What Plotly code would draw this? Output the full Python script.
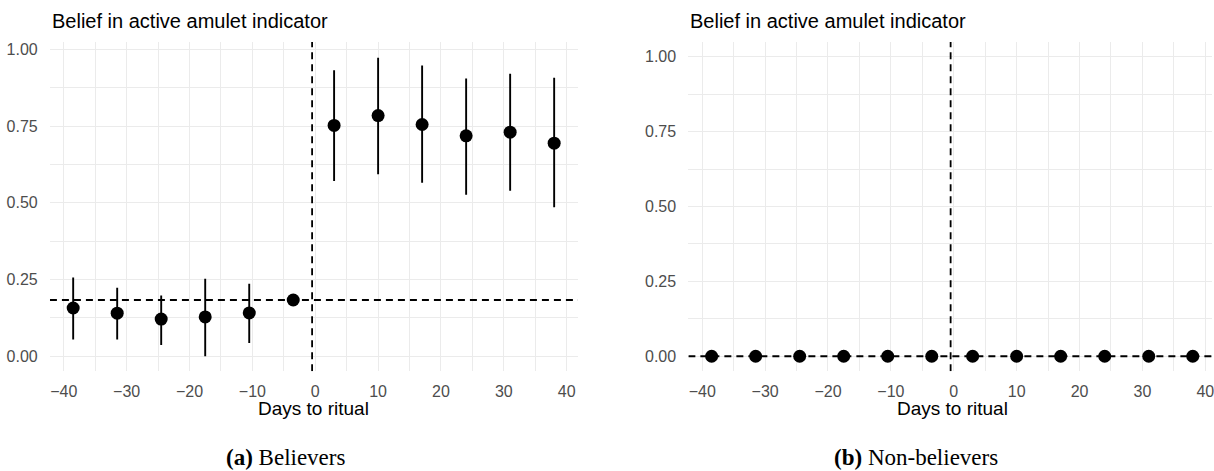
import plotly.graph_objects as go

W, H = 1214, 471

# ---- data ----
days_pre = [-38.5, -31.5, -24.5, -17.5, -10.5, -3.5]
days_post = [3, 10, 17, 24, 31, 38]
days = days_pre + days_post

bel_est = [0.157, 0.140, 0.121, 0.128, 0.141, 0.183, 0.752, 0.784, 0.755, 0.718, 0.730, 0.694]
bel_lo = [0.054, 0.054, 0.036, 0.000, 0.043, 0.183, 0.571, 0.593, 0.565, 0.526, 0.539, 0.485]
bel_hi = [0.256, 0.223, 0.198, 0.252, 0.236, 0.183, 0.932, 0.972, 0.947, 0.905, 0.920, 0.907]

non_est = [0.0] * 12
non_lo = [0.0] * 12
non_hi = [0.0] * 12

bel_ref = 0.183   # horizontal reference line (believers)
non_ref = 0.0     # horizontal reference line (non-believers)
event_x = -0.5    # vertical reference line

y_ticks = [0.0, 0.25, 0.5, 0.75, 1.0]
y_ticktext = ["0.00", "0.25", "0.50", "0.75", "1.00"]
x_ticks = [-40, -30, -20, -10, 0, 10, 20, 30, 40]
x_ticktext = ["\u221240", "\u221230", "\u221220", "\u221210", "0", "10", "20", "30", "40"]

title_txt = "Belief in active amulet indicator"
xlab = "Days to ritual"
cap_a = "<b>(a)</b> Believers"
cap_b = "<b>(b)</b> Non-believers"

# axis ranges
x1_range = [-42.2, 41.8]
y1_range = [-0.049, 1.024]
x2_range = [-42.2, 41.06]
y2_range = [-0.05, 1.05]

px = lambda v: v / W
py = lambda v: 1 - v / H

fig = go.Figure()
dash = "7px,5px"

def add_panel(est, lo, hi, href, xr, yr, xa, ya):
    # reference lines first (under the points)
    fig.add_trace(go.Scatter(x=xr, y=[href, href], mode="lines",
                             line=dict(color="black", width=1.8, dash=dash),
                             xaxis=xa, yaxis=ya, showlegend=False, hoverinfo="skip"))
    fig.add_trace(go.Scatter(x=[event_x, event_x], y=yr, mode="lines",
                             line=dict(color="black", width=1.8, dash=dash),
                             xaxis=xa, yaxis=ya, showlegend=False, hoverinfo="skip"))
    fig.add_trace(go.Scatter(
        x=days, y=est, mode="markers",
        marker=dict(color="black", size=13),
        error_y=dict(type="data", symmetric=False,
                     array=[h - e for h, e in zip(hi, est)],
                     arrayminus=[e - l for e, l in zip(est, lo)],
                     color="black", thickness=1.9, width=0),
        xaxis=xa, yaxis=ya, showlegend=False, hoverinfo="skip"))

add_panel(bel_est, bel_lo, bel_hi, bel_ref, x1_range, y1_range, "x", "y")
add_panel(non_est, non_lo, non_hi, non_ref, x2_range, y2_range, "x2", "y2")

grid_major = dict(showgrid=True, gridcolor="#EBEBEB", gridwidth=1.4)
tickfont = dict(family="Liberation Sans, Arial, sans-serif", size=16, color="#4D4D4D")

xcommon = dict(tickmode="array", tickvals=x_ticks, ticktext=x_ticktext,
               zeroline=False, showline=False, ticks="outside", ticklen=6,
               tickcolor="rgba(0,0,0,0)", tickfont=tickfont, ticklabeloverflow="allow",
               minor=dict(tickmode="array", tickvals=[-35, -25, -15, -5, 5, 15, 25, 35],
                          showgrid=True, gridcolor="#EBEBEB", gridwidth=0.8),
               **grid_major)
ycommon = dict(tickmode="array", tickvals=y_ticks, ticktext=y_ticktext,
               zeroline=False, showline=False, ticks="outside", ticklen=8,
               tickcolor="rgba(0,0,0,0)", tickfont=tickfont,
               minor=dict(tickmode="array", tickvals=[0.125, 0.375, 0.625, 0.875],
                          showgrid=True, gridcolor="#EBEBEB", gridwidth=0.8),
               **grid_major)

ydom = [py(371), py(41)]
fig.update_layout(
    width=W, height=H, margin=dict(l=0, r=0, t=0, b=0),
    paper_bgcolor="white", plot_bgcolor="white",
    xaxis=dict(domain=[px(50), px(579)], range=x1_range, anchor="y", **xcommon),
    yaxis=dict(domain=ydom, range=y1_range, anchor="x", **ycommon),
    xaxis2=dict(domain=[px(689.5), 1.0], range=x2_range, anchor="y2", **xcommon),
    yaxis2=dict(domain=ydom, range=y2_range, anchor="x2", **ycommon),
)

sans = "Liberation Sans, Arial, sans-serif"
serif = "Liberation Serif, Times New Roman, serif"
ann = []
for x0 in (50, 689.5):
    ann.append(dict(text=title_txt, x=px(x0), y=py(20.5), xref="paper", yref="paper",
                    xanchor="left", yanchor="middle", showarrow=False,
                    font=dict(family=sans, size=20, color="black")))
for xc in (314.5, 954):
    ann.append(dict(text=xlab, x=px(xc), y=py(408), xref="paper", yref="paper",
                    xanchor="center", yanchor="middle", showarrow=False,
                    font=dict(family=sans, size=19, color="black")))
ann.append(dict(text=cap_a, x=px(286), y=py(457), xref="paper", yref="paper",
                xanchor="center", yanchor="middle", showarrow=False,
                font=dict(family=serif, size=23, color="black")))
ann.append(dict(text=cap_b, x=px(918), y=py(457), xref="paper", yref="paper",
                xanchor="center", yanchor="middle", showarrow=False,
                font=dict(family=serif, size=23, color="black")))
fig.update_layout(annotations=ann)

fig.write_html("out.html")
